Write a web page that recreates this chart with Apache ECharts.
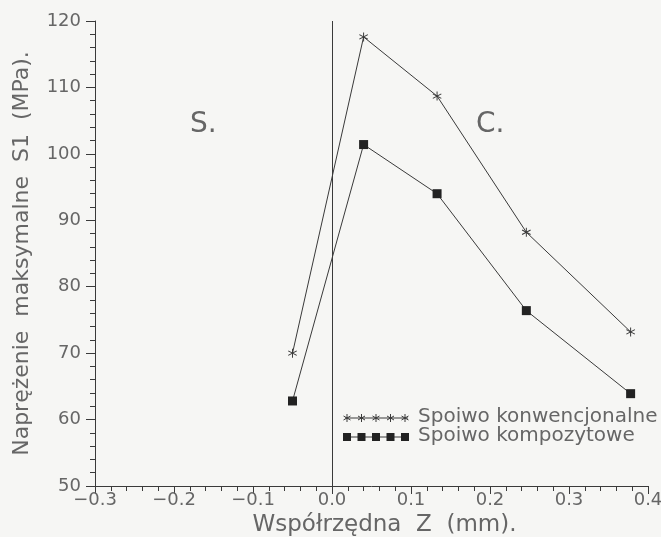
<!DOCTYPE html>
<html>
<head>
<meta charset="utf-8">
<script src="https://cdn.jsdelivr.net/npm/echarts@6/dist/echarts.min.js"></script>
<style>
  html, body { margin: 0; padding: 0; background: #f6f6f4; }
  #chart { width: 661px; height: 537px; }
</style>
</head>
<body>
<div id="chart"></div>
<script>
// Z coordinate of the measurement points (mm)
const zCoord = [-0.05, 0.04, 0.133, 0.246, 0.378];
// Maximum stress S1 (MPa) for the two adhesives
const conventional = [70.0, 117.6, 108.7, 88.2, 73.2];
const composite = [62.8, 101.4, 94.0, 76.4, 63.9];
const seriesNames = ['Spoiwo konwencjonalne', 'Spoiwo kompozytowe'];

const ink = '#3a3a3a';
const txt = '#666666';
const font = 'DejaVu Sans';

// asterisk drawn as three thin bars
const asterisk = 'path://M4.5 0 L5.5 0 L5.5 10 L4.5 10 Z M0.42 2.93 L0.92 2.07 L9.58 7.07 L9.08 7.93 Z M0.92 7.93 L0.42 7.07 L9.08 2.07 L9.58 2.93 Z';

const pairs = (ys) => zCoord.map((x, i) => [x, ys[i]]);

function fmtX(v) {
  const s = Math.abs(v).toFixed(1);
  return v < -1e-9 ? '\u2212' + s : s;
}

// legend sample: short line with five markers
function legendRow(y, kind, label) {
  const children = [{
    type: 'line', shape: { x1: 345, y1: y, x2: 408, y2: y },
    style: { stroke: ink, lineWidth: 1 }
  }];
  for (let i = 0; i < 5; i++) {
    const cx = 347 + i * 14.5;
    if (kind === 'square') {
      children.push({ type: 'rect', shape: { x: cx - 4, y: y - 4, width: 8, height: 8 }, style: { fill: '#222' } });
    } else {
      children.push({ type: 'line', shape: { x1: cx, y1: y - 4, x2: cx, y2: y + 4 }, style: { stroke: ink, lineWidth: 1 } });
      children.push({ type: 'line', shape: { x1: cx - 3.5, y1: y - 2, x2: cx + 3.5, y2: y + 2 }, style: { stroke: ink, lineWidth: 1 } });
      children.push({ type: 'line', shape: { x1: cx - 3.5, y1: y + 2, x2: cx + 3.5, y2: y - 2 }, style: { stroke: ink, lineWidth: 1 } });
    }
  }
  children.push({
    type: 'text', left: 418, top: y - 11,
    style: { text: label, fill: txt, font: '20px "' + font + '"' }
  });
  return children;
}

const chart = echarts.init(document.getElementById('chart'));
chart.setOption({
  backgroundColor: '#f6f6f4',
  animation: false,
  grid: { left: 95, right: 13, top: 21, bottom: 51, containLabel: false, outerBoundsMode: 'none' },
  xAxis: {
    type: 'value', min: -0.3, max: 0.4, interval: 0.1,
    name: 'Współrzędna  Z  (mm).', nameLocation: 'middle', nameGap: 26,
    nameTextStyle: { fontFamily: font, fontSize: 23, color: txt, padding: [0, 0, 0, 26] },
    axisLine: { show: true, onZero: false, lineStyle: { color: ink, width: 1 } },
    axisTick: { show: true, length: 8, lineStyle: { color: ink } },
    minorTick: { show: true, splitNumber: 5, length: 5, lineStyle: { color: ink } },
    axisLabel: { fontFamily: font, fontSize: 18, color: txt, margin: 5, formatter: fmtX, showMinLabel: true, showMaxLabel: true },
    splitLine: { show: false }
  },
  yAxis: {
    type: 'value', min: 50, max: 120, interval: 10,
    name: 'Naprężenie  maksymalne  S1  (MPa).', nameLocation: 'middle', nameGap: 62,
    nameTextStyle: { fontFamily: font, fontSize: 22, color: txt },
    axisLine: { show: true, onZero: false, lineStyle: { color: ink, width: 1 } },
    axisTick: { show: true, length: 9, lineStyle: { color: ink } },
    minorTick: { show: true, splitNumber: 5, length: 5, lineStyle: { color: ink } },
    axisLabel: { fontFamily: font, fontSize: 18, color: txt, margin: 14 },
    splitLine: { show: false }
  },
  series: [
    {
      name: seriesNames[0], type: 'line', data: pairs(conventional),
      symbol: asterisk, symbolSize: 9,
      lineStyle: { color: ink, width: 1 },
      itemStyle: { color: ink },
      markLine: {
        silent: true, symbol: 'none', label: { show: false },
        lineStyle: { color: ink, width: 1, type: 'solid' },
        data: [{ xAxis: 0 }]
      }
    },
    {
      name: seriesNames[1], type: 'line', data: pairs(composite),
      symbol: 'rect', symbolSize: 9,
      lineStyle: { color: ink, width: 1 },
      itemStyle: { color: '#222' }
    }
  ],
  graphic: [
    { type: 'text', left: 190, top: 111, style: { text: 'S.', fill: txt, font: '28px "' + font + '"' } },
    { type: 'text', left: 476, top: 111, style: { text: 'C.', fill: txt, font: '28px "' + font + '"' } },
    ...legendRow(418, 'star', seriesNames[0]),
    ...legendRow(437, 'square', seriesNames[1])
  ]
});
</script>
</body>
</html>
